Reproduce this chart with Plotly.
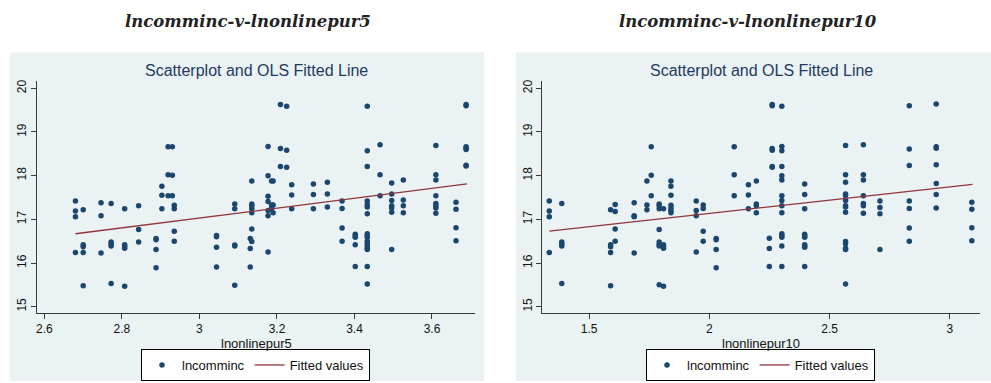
import plotly.graph_objects as go

# ---------------- data ----------------
# Panel 1: lncomminc vs lnonlinepur5
lnonlinepur5 = (
    [2.680] * 4 + [2.700] * 5 + [2.746] * 3 + [2.772] * 5 + [2.807] * 5 + [2.843] * 3 +
    [2.888] * 4 + [2.903] * 3 + [2.919] * 3 + [2.930] * 3 + [2.935] * 4 +
    [3.044] * 4 + [3.091] * 5 + [3.131] * 3 + [3.135] * 7 + [3.177] * 7 + [3.186] * 3 +
    [3.190] * 3 + [3.209] * 3 + [3.225] * 3 + [3.238] * 3 + [3.294] * 3 + [3.330] * 3 +
    [3.368] * 4 + [3.402] * 5 + [3.433] * 17 + [3.466] * 3 + [3.496] * 7 + [3.526] * 4 +
    [3.610] * 8 + [3.662] * 4 + [3.688] * 7
)
lncomminc5 = [
    17.42, 17.19, 17.06, 16.24,
    17.22, 16.42, 16.37, 16.24, 15.48,
    17.38, 17.08, 16.23,
    17.36, 16.48, 16.44, 16.39, 15.53,
    17.24, 16.42, 16.38, 16.34, 15.47,
    17.31, 16.77, 16.48,
    16.56, 16.53, 16.31, 15.89,
    17.76, 17.55, 17.24,
    18.66, 18.02, 17.54,
    18.66, 18.01, 17.54,
    17.32, 17.24, 16.73, 16.50,
    16.63, 16.60, 16.36, 15.91,
    17.35, 17.24, 16.41, 16.39, 15.49,
    16.56, 16.33, 15.91,
    17.88, 17.35, 17.31, 17.24, 17.15, 16.78, 16.49,
    18.67, 18.00, 17.53, 17.41, 17.20, 17.08, 16.25,
    17.88, 17.33, 17.25,
    17.88, 17.33, 17.15,
    19.63, 18.62, 18.21,
    19.59, 18.58, 18.19,
    17.79, 17.56, 17.24,
    17.81, 17.57, 17.24,
    17.85, 17.58, 17.28,
    17.42, 17.25, 16.80, 16.50,
    16.66, 16.62, 16.59, 16.42, 15.92,
    19.59, 18.57, 18.21, 17.42, 17.33, 17.28, 17.13, 16.67, 16.63, 16.59, 16.50, 16.44,
    16.39, 16.34, 16.31, 15.92, 15.52,
    18.71, 18.02, 17.54,
    17.83, 17.58, 17.43, 17.31, 17.26, 17.16, 16.31,
    17.90, 17.44, 17.31, 17.15,
    18.69, 18.02, 17.90, 17.54, 17.36, 17.31, 17.26, 17.14,
    17.39, 17.23, 16.81, 16.51,
    19.63, 19.60, 18.66, 18.63, 18.60, 18.24, 18.22,
]
# OLS fitted values (line ends)
fitted5_x = [2.680, 3.690]
fitted5_y = [16.67, 17.81]

# Panel 2: lncomminc vs lnonlinepur10
lnonlinepur10 = (
    [1.334] * 4 + [1.386] * 5 + [1.589] * 5 + [1.608] * 4 + [1.687] * 4 + [1.740] * 3 +
    [1.758] * 3 + [1.791] * 8 + [1.809] * 5 + [1.840] * 7 +
    [1.945] * 4 + [1.974] * 4 + [2.028] * 4 + [2.103] * 3 + [2.162] * 3 + [2.195] * 4 +
    [2.249] * 3 + [2.261] * 6 + [2.301] * 15 + [2.396] * 10 +
    [2.566] * 14 + [2.640] * 7 + [2.709] * 4 + [2.831] * 7 + [2.943] * 7 + [3.091] * 4
)
lncomminc10 = [
    17.42, 17.19, 17.06, 16.24,
    17.36, 16.48, 16.44, 16.39, 15.53,
    17.22, 16.42, 16.37, 16.24, 15.48,
    17.34, 17.18, 16.78, 16.50,
    17.38, 17.08, 17.06, 16.23,
    17.88, 17.33, 17.22,
    18.66, 18.01, 17.54,
    17.35, 17.31, 17.24, 16.77, 16.48, 16.42, 16.39, 15.50,
    17.24, 16.42, 16.38, 16.34, 15.47,
    17.88, 17.76, 17.55, 17.32, 17.26, 17.20, 17.15,
    17.42, 17.20, 17.08, 16.25,
    17.33, 17.25, 16.73, 16.50,
    16.56, 16.53, 16.31, 15.89,
    18.66, 18.02, 17.54,
    17.79, 17.56, 17.24,
    17.88, 17.35, 17.31, 17.15,
    16.57, 16.33, 15.92,
    19.63, 19.60, 18.62, 18.58, 18.21, 18.19,
    19.59, 18.67, 18.57, 18.21, 18.00, 17.90, 17.54, 17.43, 17.31, 17.15, 16.67, 16.63,
    16.59, 16.39, 15.92,
    17.81, 17.57, 17.24, 16.66, 16.62, 16.59, 16.42, 16.39, 16.36, 15.92,
    18.69, 18.02, 17.85, 17.58, 17.54, 17.43, 17.31, 17.28, 17.16, 16.49, 16.44, 16.34,
    16.31, 15.52,
    18.71, 18.02, 17.90, 17.54, 17.36, 17.31, 17.14,
    17.42, 17.27, 17.13, 16.31,
    19.60, 18.61, 18.23, 17.42, 17.25, 16.80, 16.50,
    19.64, 18.66, 18.63, 18.25, 17.82, 17.57, 17.26,
    17.39, 17.23, 16.81, 16.51,
]
fitted10_x = [1.334, 3.094]
fitted10_y = [16.73, 17.80]

panel_titles = ["lncomminc-v-lnonlinepur5", "lncomminc-v-lnonlinepur10"]
inner_title = "Scatterplot and OLS Fitted Line"
x_titles = ["lnonlinepur5", "lnonlinepur10"]
x_ticks_1 = [2.6, 2.8, 3.0, 3.2, 3.4, 3.6]
x_ticklabels_1 = ["2.6", "2.8", "3", "3.2", "3.4", "3.6"]
x_ticks_2 = [1.5, 2.0, 2.5, 3.0]
x_ticklabels_2 = ["1.5", "2", "2.5", "3"]
y_ticks = [15, 16, 17, 18, 19, 20]

# ---------------- styling ----------------
W, H = 991, 383
NAVY = "#1A476F"
MAROON = "#90353B"
BG = "#EAF2F3"
AXC = "#3A3A3A"
SANS = "Liberation Sans"


def px(x):
    return x / W


def py(y):
    return 1 - y / H


fig = go.Figure()

fig.add_trace(go.Scatter(x=lnonlinepur5, y=lncomminc5, mode="markers", name="lncomminc",
                         marker=dict(color=NAVY, size=5.5), xaxis="x", yaxis="y", legend="legend"))
fig.add_trace(go.Scatter(x=fitted5_x, y=fitted5_y, mode="lines", name="Fitted values",
                         line=dict(color=MAROON, width=1.3), xaxis="x", yaxis="y", legend="legend"))
fig.add_trace(go.Scatter(x=lnonlinepur10, y=lncomminc10, mode="markers", name="lncomminc",
                         marker=dict(color=NAVY, size=5.5), xaxis="x2", yaxis="y2", legend="legend2"))
fig.add_trace(go.Scatter(x=fitted10_x, y=fitted10_y, mode="lines", name="Fitted values",
                         line=dict(color=MAROON, width=1.3), xaxis="x2", yaxis="y2", legend="legend2"))

ydom = [py(313), py(81)]
common_x = dict(showgrid=False, zeroline=False, showline=True, linecolor=AXC, linewidth=1,
                ticks="outside", ticklen=5, tickcolor=AXC, tickfont=dict(size=12, color="#111"))
common_y = dict(showgrid=True, gridcolor=BG, gridwidth=1, zeroline=False, showline=True,
                linecolor=AXC, linewidth=1, ticks="outside", ticklen=5, tickcolor=AXC,
                tickfont=dict(size=12, color="#111"), tickangle=-90, tickvals=y_ticks,
                range=[14.856, 20.167])
legend_common = dict(xanchor="center", yanchor="middle", orientation="h",
                     bordercolor="#000", borderwidth=1, bgcolor="white",
                     font=dict(size=13, family=SANS, color="#111"), itemwidth=30,
                     tracegroupgap=0)

fig.update_layout(
    width=W, height=H, margin=dict(l=0, r=0, t=0, b=0),
    paper_bgcolor="white", plot_bgcolor="white",
    font=dict(family=SANS, color="#111"),
    xaxis=dict(domain=[px(36.7), px(475)], anchor="y", range=[2.580, 3.711],
               tickvals=x_ticks_1, ticktext=x_ticklabels_1, **common_x),
    yaxis=dict(domain=ydom, anchor="x", **common_y),
    xaxis2=dict(domain=[px(542.3), px(980)], anchor="y2", range=[1.305, 3.125],
                tickvals=x_ticks_2, ticktext=x_ticklabels_2, **common_x),
    yaxis2=dict(domain=ydom, anchor="x2", **common_y),
    legend=dict(x=px(255.5), y=py(365), **legend_common),
    legend2=dict(x=px(760.5), y=py(365), **legend_common),
    showlegend=True,
)

# outer light-blue graph regions
for x0, x1 in [(10, 484), (516, 991)]:
    fig.add_shape(type="rect", xref="paper", yref="paper", x0=px(x0), x1=px(x1),
                  y0=py(381), y1=py(52.5), fillcolor=BG, line=dict(width=0), layer="below")

# panel headings
for t, cx in zip(panel_titles, [248, 748]):
    fig.add_annotation(text=f"<b><i>{t}</i></b>", x=px(cx), y=py(22), xref="paper", yref="paper",
                       showarrow=False, xanchor="center", yanchor="middle",
                       font=dict(family="DejaVu Serif", size=16.5, color="#222"))
# inner titles
for cx in [256, 761]:
    fig.add_annotation(text=inner_title, x=px(cx), y=py(70), xref="paper", yref="paper",
                       showarrow=False, xanchor="center", yanchor="middle",
                       font=dict(family=SANS, size=16, color="#1F3A5F"))
# x-axis titles
for t, cx in zip(x_titles, [256, 761]):
    fig.add_annotation(text=t, x=px(cx), y=py(343), xref="paper", yref="paper",
                       showarrow=False, xanchor="center", yanchor="middle",
                       font=dict(family=SANS, size=13, color="#111"))

fig.write_html("out.html")
